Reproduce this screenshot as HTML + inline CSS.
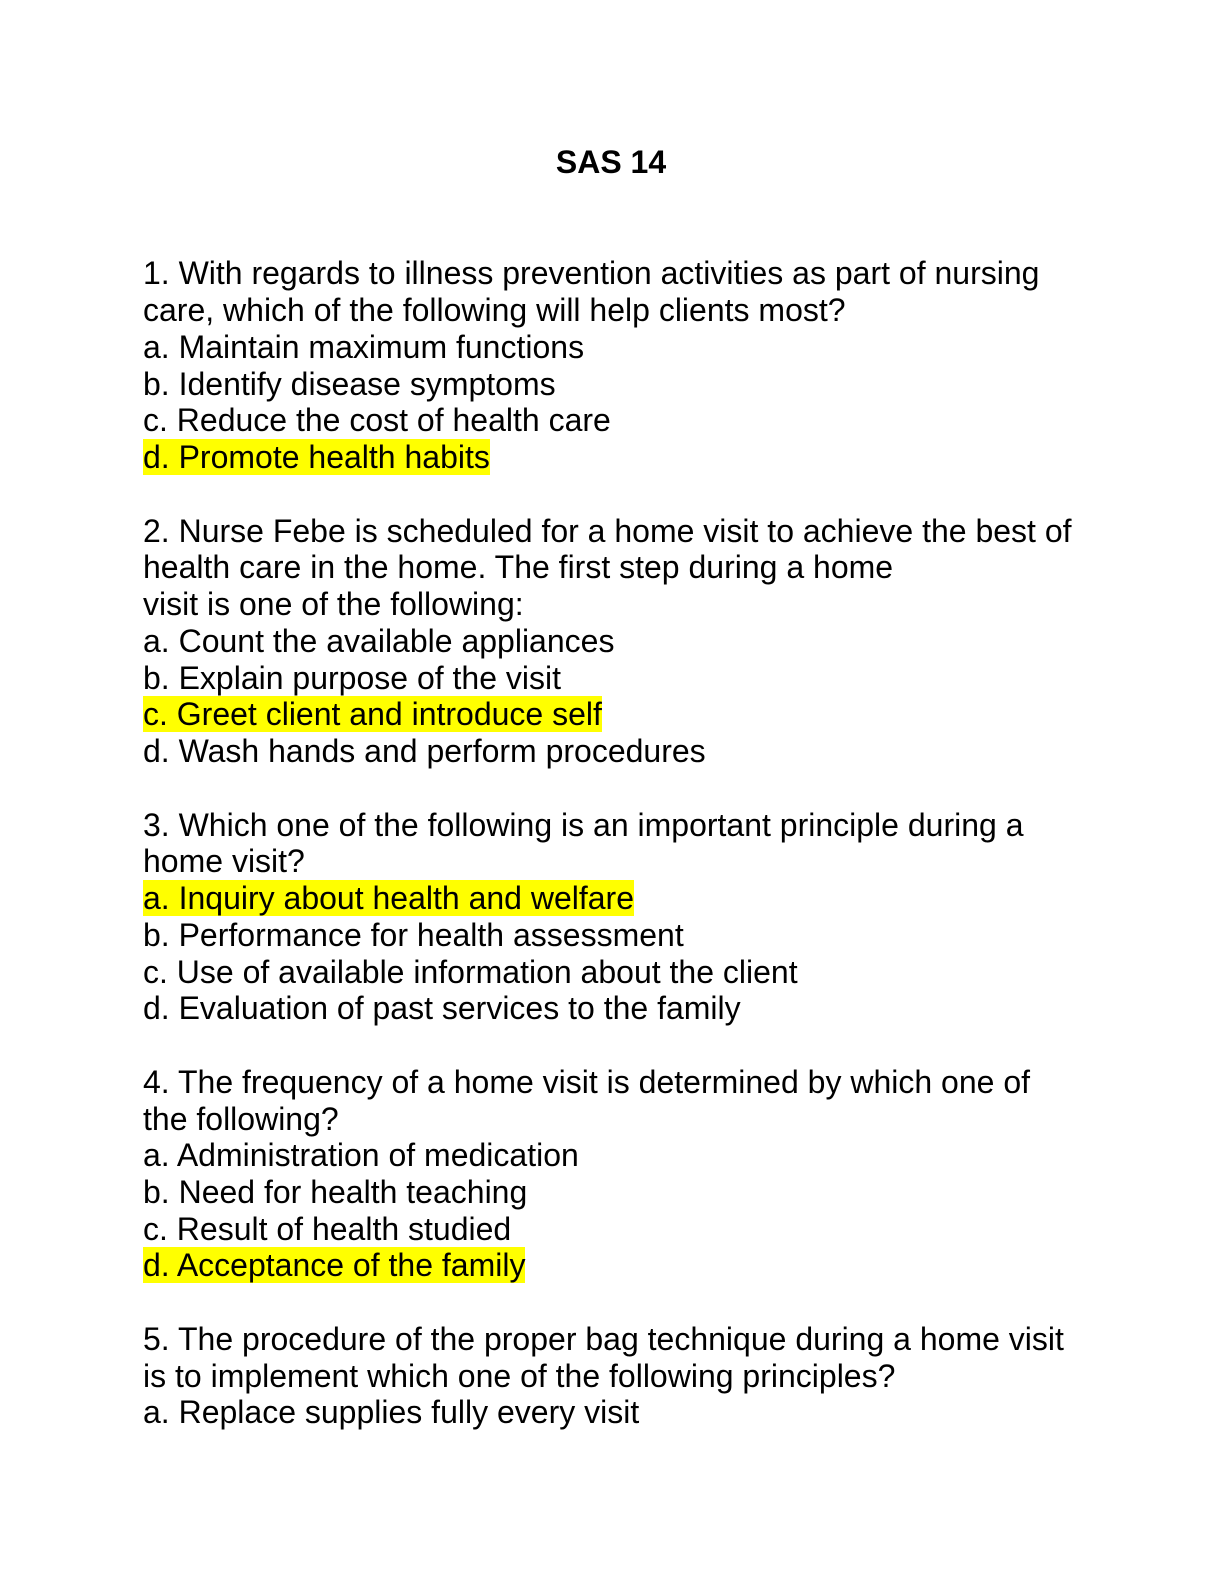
<!DOCTYPE html>
<html><head><meta charset="utf-8"><style>
body{margin:0;width:1224px;height:1584px;background:#fff;position:relative;font-family:"Liberation Sans",Arial,sans-serif;color:#000}
.l{position:absolute;left:143px;font-size:32px;line-height:36px;white-space:nowrap}
.h{background:#ffff00}
.t{position:absolute;left:0;width:1222px;text-align:center;font-weight:bold;font-size:32px;line-height:36px;top:144px}
</style></head><body>
<div class="t">SAS 14</div>
<div class="l" style="top:255.4px">1. With regards to illness prevention activities as part of nursing</div>
<div class="l" style="top:292.1px">care, which of the following will help clients most?</div>
<div class="l" style="top:328.9px">a. Maintain maximum functions</div>
<div class="l" style="top:365.6px">b. Identify disease symptoms</div>
<div class="l" style="top:402.4px">c. Reduce the cost of health care</div>
<div class="l" style="top:439.1px"><span class="h">d. Promote health habits</span></div>
<div class="l" style="top:512.6px">2. Nurse Febe is scheduled for a home visit to achieve the best of</div>
<div class="l" style="top:549.3px">health care in the home. The first step during a home</div>
<div class="l" style="top:586.1px">visit is one of the following:</div>
<div class="l" style="top:622.8px">a. Count the available appliances</div>
<div class="l" style="top:659.6px">b. Explain purpose of the visit</div>
<div class="l" style="top:696.3px"><span class="h">c. Greet client and introduce self</span></div>
<div class="l" style="top:733.1px">d. Wash hands and perform procedures</div>
<div class="l" style="top:806.5px">3. Which one of the following is an important principle during a</div>
<div class="l" style="top:843.3px">home visit?</div>
<div class="l" style="top:880.0px"><span class="h">a. Inquiry about health and welfare</span></div>
<div class="l" style="top:916.8px">b. Performance for health assessment</div>
<div class="l" style="top:953.5px">c. Use of available information about the client</div>
<div class="l" style="top:990.2px">d. Evaluation of past services to the family</div>
<div class="l" style="top:1063.7px">4. The frequency of a home visit is determined by which one of</div>
<div class="l" style="top:1100.5px">the following?</div>
<div class="l" style="top:1137.2px">a. Administration of medication</div>
<div class="l" style="top:1173.9px">b. Need for health teaching</div>
<div class="l" style="top:1210.7px">c. Result of health studied</div>
<div class="l" style="top:1247.4px"><span class="h">d. Acceptance of the family</span></div>
<div class="l" style="top:1320.9px">5. The procedure of the proper bag technique during a home visit</div>
<div class="l" style="top:1357.7px">is to implement which one of the following principles?</div>
<div class="l" style="top:1394.4px">a. Replace supplies fully every visit</div>
</body></html>
